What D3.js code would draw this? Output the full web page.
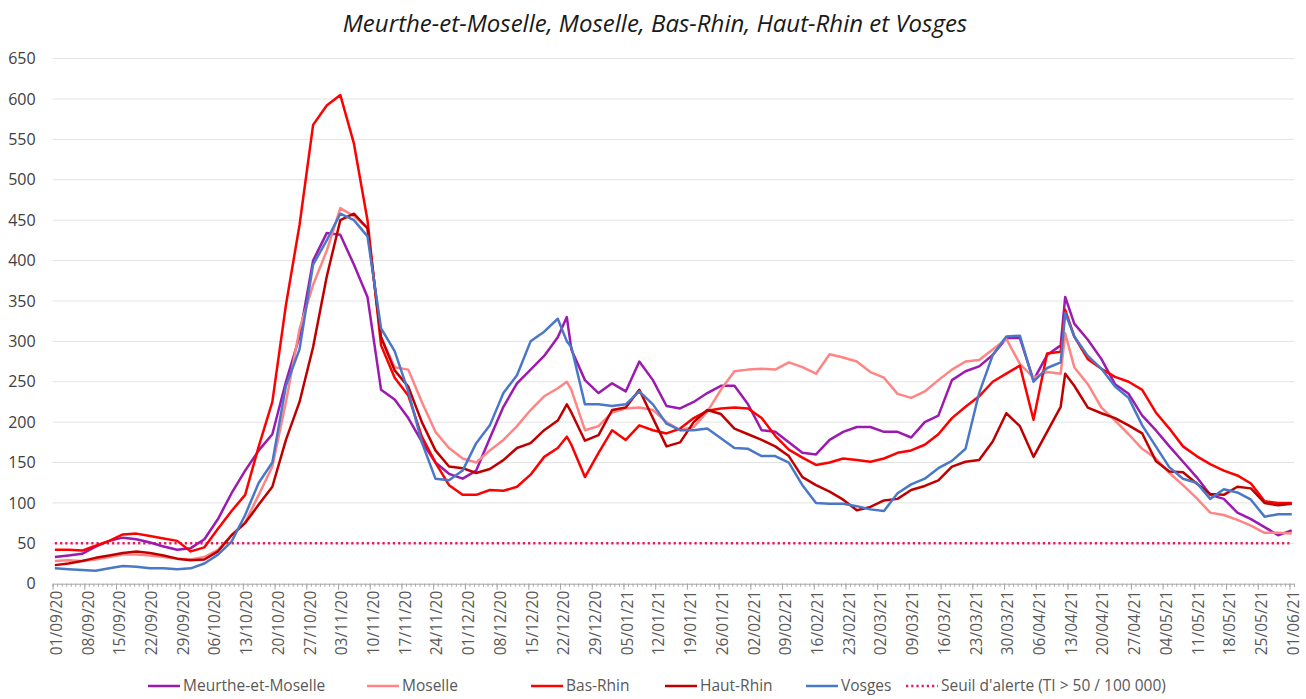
<!DOCTYPE html>
<html>
<head>
<meta charset="utf-8">
<script src="https://cdn.jsdelivr.net/npm/d3@7"></script>
<style>
body { margin: 0; background: #fff; }
text { font-family: "Open Sans", "Liberation Sans", sans-serif; }
</style>
</head>
<body>
<div id="chart"></div>
<script>
const dates = [
  "01/09/20","04/09/20","07/09/20","10/09/20","13/09/20","16/09/20","19/09/20","22/09/20","25/09/20","28/09/20",
  "01/10/20","04/10/20","07/10/20","10/10/20","13/10/20","16/10/20","19/10/20","22/10/20","25/10/20","28/10/20","31/10/20",
  "03/11/20","06/11/20","09/11/20","12/11/20","15/11/20","18/11/20","21/11/20","24/11/20","27/11/20","30/11/20",
  "03/12/20","06/12/20","09/12/20","12/12/20","15/12/20","18/12/20","21/12/20","23/12/20","24/12/20","27/12/20","30/12/20",
  "02/01/21","05/01/21","08/01/21","11/01/21","14/01/21","17/01/21","20/01/21","23/01/21","26/01/21","29/01/21",
  "01/02/21","04/02/21","07/02/21","10/02/21","13/02/21","16/02/21","19/02/21","22/02/21","25/02/21","28/02/21",
  "03/03/21","06/03/21","09/03/21","12/03/21","15/03/21","18/03/21","21/03/21","24/03/21","27/03/21","30/03/21",
  "02/04/21","05/04/21","08/04/21","11/04/21","12/04/21","14/04/21","17/04/21","20/04/21","23/04/21","26/04/21","29/04/21",
  "02/05/21","05/05/21","08/05/21","11/05/21","14/05/21","17/05/21","20/05/21","23/05/21","26/05/21","29/05/21",
  "01/06/21"
];

const meurtheEtMoselle = [
  33,35,37,46,53,57,55,51,46,42,
  44,55,80,112,140,165,185,250,306,400,434,
  432,395,355,240,228,205,176,150,136,130,
  140,180,219,248,265,282,305,330,290,252,236,
  248,238,275,252,220,217,225,236,245,245,
  222,190,188,175,162,160,178,188,194,194,
  188,188,181,200,208,252,263,269,283,304,
  304,252,283,295,355,322,302,278,247,235,208,
  190,170,151,132,110,105,88,80,70,60,
  66
];
const moselle = [
  28,29,28,30,33,36,36,35,33,31,
  30,33,42,60,76,110,145,225,315,370,412,
  465,455,440,305,268,265,225,188,168,155,
  150,165,178,195,215,232,242,250,240,190,195,
  212,217,218,215,200,190,194,213,240,263,
  265,266,265,274,268,260,284,280,275,262,
  255,235,230,238,252,265,275,277,290,303,
  272,255,262,260,310,268,247,218,202,185,167,
  155,137,122,106,88,85,79,72,63,63,
  62
];
const basRhin = [
  42,42,41,47,53,61,62,59,56,53,
  40,45,68,90,110,170,225,345,444,568,592,
  605,545,450,295,255,233,182,150,122,110,
  110,116,115,120,135,157,168,182,172,132,162,
  190,178,196,190,186,192,205,214,217,218,
  217,205,183,166,156,147,150,155,153,151,
  155,162,165,172,185,205,219,232,250,260,
  270,203,285,287,339,306,278,266,256,250,240,
  212,192,170,158,148,140,134,124,102,100,
  100
];
const hautRhin = [
  23,25,28,32,35,38,40,38,35,31,
  29,30,40,60,75,98,120,178,225,293,380,
  450,458,440,305,264,244,200,165,145,143,
  137,142,153,168,174,190,202,222,212,177,184,
  215,218,240,205,170,175,200,215,210,192,
  185,178,170,158,132,122,114,104,91,95,
  103,105,116,121,128,145,151,153,176,211,
  195,157,188,219,260,245,218,211,205,196,186,
  152,139,138,124,111,110,120,118,100,97,
  99
];
const vosges = [
  19,18,17,16,19,22,21,19,19,18,
  19,25,36,52,85,125,150,245,290,395,425,
  458,450,430,316,288,238,175,130,128,140,
  174,196,236,258,300,312,328,300,293,222,222,
  220,222,238,222,198,190,190,192,180,168,
  167,158,158,150,122,100,99,99,96,92,
  90,112,123,130,143,152,167,236,283,306,
  307,250,267,274,335,306,282,266,244,230,196,
  170,144,130,125,105,117,113,104,83,86,
  86
];

const weekLabels = [
  "01/09/20","08/09/20","15/09/20","22/09/20","29/09/20","06/10/20","13/10/20","20/10/20","27/10/20","03/11/20",
  "10/11/20","17/11/20","24/11/20","01/12/20","08/12/20","15/12/20","22/12/20","29/12/20","05/01/21","12/01/21",
  "19/01/21","26/01/21","02/02/21","09/02/21","16/02/21","23/02/21","02/03/21","09/03/21","16/03/21","23/03/21",
  "30/03/21","06/04/21","13/04/21","20/04/21","27/04/21","04/05/21","11/05/21","18/05/21","25/05/21","01/06/21"
];
const yTicks = [0, 50, 100, 150, 200, 250, 300, 350, 400, 450, 500, 550, 600, 650];
const seuil = 50;

const series = [
  { name: "Meurthe-et-Moselle", values: meurtheEtMoselle, color: "#9C1AAE" },
  { name: "Moselle", values: moselle, color: "#FF8585" },
  { name: "Bas-Rhin", values: basRhin, color: "#FF0000" },
  { name: "Haut-Rhin", values: hautRhin, color: "#C00000" },
  { name: "Vosges", values: vosges, color: "#4A78C8" }
];

const width = 1306, height = 699;
const plotLeft = 52.6, plotRight = 1294, plotTop = 58.6, plotBottom = 583.7;
const parse = d3.utcParse("%d/%m/%y");
const fmt = d3.utcFormat("%d/%m/%y");

const start = parse(weekLabels[0]);
const end = d3.utcDay.offset(parse(weekLabels[weekLabels.length - 1]), 1);

// one band per day, ticks sit on the day boundaries
const xb = d3.scaleUtc().domain([start, end]).range([plotLeft, plotRight]);
const dayW = xb(d3.utcDay.offset(start, 1)) - xb(start);
const xc = xb.copy().range([plotLeft + dayW / 2, plotRight + dayW / 2]);
const y = d3.scaleLinear().domain([0, 650]).range([plotBottom, plotTop]);

const svg = d3.select("#chart").append("svg")
  .attr("width", width)
  .attr("height", height);

svg.append("text")
  .attr("x", 655)
  .attr("y", 32)
  .attr("text-anchor", "middle")
  .attr("font-size", "24px")
  .attr("font-style", "italic")
  .attr("fill", "#1a1a1a")
  .text("Meurthe-et-Moselle, Moselle, Bas-Rhin, Haut-Rhin et Vosges");

svg.append("g")
  .selectAll("line")
  .data(yTicks.filter(d => d > 0))
  .join("line")
  .attr("x1", plotLeft)
  .attr("x2", plotRight)
  .attr("y1", d => y(d))
  .attr("y2", d => y(d))
  .attr("stroke", "#e3e3e3")
  .attr("stroke-width", 1);

const yAxis = svg.append("g")
  .attr("transform", "translate(" + (plotLeft - 17) + ",0)")
  .call(d3.axisLeft(y).tickValues(yTicks).tickSize(0).tickPadding(0));
yAxis.select(".domain").remove();
yAxis.selectAll("text")
  .attr("font-size", "16px")
  .attr("fill", "#404040")
  .attr("font-family", "\"Open Sans\", sans-serif");

const allDays = d3.utcDay.range(start, d3.utcDay.offset(end, 1));
const weekDays = allDays.filter((d, i) => i % 7 === 0);

const minor = svg.append("g")
  .attr("transform", "translate(0," + plotBottom + ")")
  .call(d3.axisBottom(xb).tickValues(allDays).tickSize(3).tickFormat(""));
minor.select(".domain").attr("stroke", "#a6a6a6");
minor.selectAll(".tick line").attr("stroke", "#a6a6a6");

const major = svg.append("g")
  .attr("transform", "translate(0," + plotBottom + ")")
  .call(d3.axisBottom(xb).tickValues(weekDays).tickSize(6).tickFormat(""));
major.select(".domain").remove();
major.selectAll(".tick line").attr("stroke", "#a6a6a6");

svg.append("g")
  .selectAll("text")
  .data(weekLabels)
  .join("text")
  .attr("transform", d => "translate(" + (xc(parse(d)) + 1.5) + "," + (plotBottom + 7) + ") rotate(-90)")
  .attr("text-anchor", "end")
  .attr("dy", "0.35em")
  .attr("font-size", "15.5px")
  .attr("fill", "#595959")
  .text(d => fmt(parse(d)));

svg.append("line")
  .attr("x1", xc(parse(dates[0])))
  .attr("x2", xc(parse(dates[dates.length - 1])))
  .attr("y1", y(seuil))
  .attr("y2", y(seuil))
  .attr("stroke", "#E3195E")
  .attr("stroke-width", 2.5)
  .attr("stroke-dasharray", "2.2 3");

const line = d3.line()
  .x((v, i) => xc(parse(dates[i])))
  .y(v => y(v));

svg.append("g")
  .selectAll("path")
  .data(series)
  .join("path")
  .attr("d", s => line(s.values))
  .attr("fill", "none")
  .attr("stroke", s => s.color)
  .attr("stroke-width", 2.5)
  .attr("stroke-linejoin", "round");

const legendItems = series.map(s => ({ name: s.name, color: s.color, dash: null }))
  .concat([{ name: "Seuil d'alerte (TI > 50 / 100 000)", color: "#E3195E", dash: "2.2 3" }]);
const legendX = [148, 367, 531, 665, 806, 906];

const legend = svg.append("g")
  .selectAll("g")
  .data(legendItems)
  .join("g")
  .attr("transform", (d, i) => "translate(" + legendX[i] + ",686)");
legend.append("line")
  .attr("x1", 0)
  .attr("x2", 32)
  .attr("stroke", d => d.color)
  .attr("stroke-width", 2.5)
  .attr("stroke-dasharray", d => d.dash);
legend.append("text")
  .attr("x", 35)
  .attr("dy", "0.35em")
  .attr("font-size", "15.5px")
  .attr("fill", "#595959")
  .text(d => d.name);
</script>
</body>
</html>
